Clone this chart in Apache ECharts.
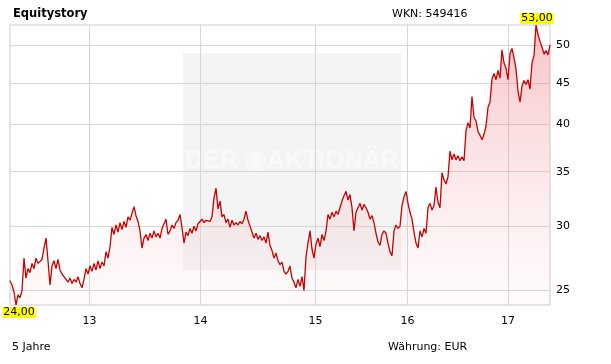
<!DOCTYPE html>
<html>
<head>
<meta charset="utf-8">
<script src="https://cdn.jsdelivr.net/npm/echarts@6/dist/echarts.min.js"></script>
<style>
html,body{margin:0;padding:0;background:#fff;}
#chart{width:611px;height:364px;}
</style>
</head>
<body>
<div id="chart"></div>
<script>
// Sample positions (trading-time index, evenly spaced) and closing prices in EUR
const prices = [
25.7, 25.4, 24.9, 24.0, 24.7, 24.5, 25.0, 27.4, 25.9, 26.6,
26.3, 27.0, 26.6, 27.4, 27.0, 27.1, 27.3, 28.2, 29.0, 27.2,
25.4, 26.8, 27.2, 26.6, 27.3, 26.5, 26.2, 26.0, 25.8, 25.6,
25.9, 25.5, 25.8, 25.6, 26.0, 25.5, 25.2, 25.8, 26.6, 26.2,
26.8, 26.4, 27.0, 26.5, 27.2, 26.6, 27.1, 26.8, 27.9, 27.4,
28.3, 29.9, 29.3, 30.1, 29.5, 30.3, 29.7, 30.4, 29.9, 30.8,
30.5, 31.1, 31.7, 30.9, 30.4, 29.6, 28.2, 29.0, 29.3, 28.8,
29.4, 29.0, 29.6, 29.1, 29.4, 29.0, 29.8, 30.2, 30.6, 29.3,
29.6, 30.1, 29.8, 30.3, 30.5, 31.0, 29.9, 28.6, 29.5, 29.2,
29.8, 29.4, 30.0, 29.6, 30.2, 30.4, 30.6, 30.3, 30.5, 30.6,
30.4, 30.8, 32.5, 33.4, 31.5, 32.2, 30.8, 31.0, 30.3, 30.6,
29.9, 30.5, 30.1, 30.3, 30.1, 30.4, 30.2, 30.6, 31.3, 30.5,
30.0, 29.5, 29.0, 29.4, 28.9, 29.2, 28.8, 29.1, 28.6, 29.5,
28.4, 28.0, 27.4, 27.8, 27.2, 26.9, 27.1, 26.4, 26.2, 26.4,
26.8, 25.9, 25.6, 25.2, 25.8, 25.3, 26.0, 25.0, 27.5, 28.6,
29.6, 28.1, 27.4, 28.5, 29.0, 28.3, 29.3, 28.8, 29.6, 31.0,
30.6, 31.2, 30.8, 31.3, 31.0, 31.6, 32.2, 32.7, 33.1, 32.3,
32.8, 31.6, 29.6, 31.2, 31.6, 32.0, 31.4, 31.9, 31.6, 31.2,
30.6, 30.9, 30.3, 29.4, 28.7, 28.4, 29.3, 29.6, 29.4, 28.6,
27.9, 27.6, 29.6, 30.1, 29.8, 30.0, 31.8, 32.6, 33.1, 32.0,
31.2, 30.6, 29.5, 28.6, 28.2, 29.6, 29.1, 29.8, 29.4, 31.6,
32.0, 31.4, 31.8, 33.5, 32.1, 31.6, 34.9, 34.2, 33.8, 34.5,
37.1, 36.2, 36.8, 36.2, 36.6, 36.1, 36.5, 36.1, 39.3, 40.2,
39.6, 43.3, 40.8, 40.4, 39.2, 38.8, 38.3, 38.9, 39.8, 42.0,
42.6, 45.5, 46.2, 45.4, 46.6, 45.6, 49.4, 47.6, 46.9, 45.4,
48.9, 49.6, 48.3, 46.8, 44.0, 42.6, 44.6, 45.3, 44.8, 45.4,
44.2, 47.6, 48.6, 53.0, 51.6, 50.6, 49.8, 48.8, 49.3, 48.7,
50.1
];
// Year boundaries on the trading-time index, and their labels
const yearLabels = ['13', '14', '15', '16', '17'];
const yearPos = [39.8, 95.3, 152.8, 198.8, 249];
// Price axis ticks (log scale)
const yTicks = [25, 30, 35, 40, 45, 50];
const yMin = 24, yMax = 53;

const FONT = '"DejaVu Sans", Verdana, sans-serif';
const fmtDe = v => v.toFixed(2).replace('.', ',');

const chart = echarts.init(document.getElementById('chart'), null, {renderer: 'canvas'});
chart.setOption({
  animation: false,
  backgroundColor: '#ffffff',
  grid: {left: 10, right: 61, top: 25, bottom: 59, show: true, borderColor: '#cccccc', borderWidth: 1, backgroundColor: 'transparent'},
  title: {
    text: 'Equitystory', left: 8, top: 3,
    textStyle: {fontFamily: FONT, fontSize: 11.5, fontWeight: 'bold', color: '#000'}
  },
  graphic: [
    {type: 'rect', z: -10, shape: {x: 183, y: 53, width: 218, height: 217}, style: {fill: '#f4f4f4'}},
    {type: 'text', z: -9, style: {x: 292, y: 161, text: 'DER ◉AKTIONÄR', align: 'center', verticalAlign: 'middle',
      font: 'bold 25px "Liberation Sans", Arial, sans-serif', fill: '#f9f9f9'}},
    {type: 'text', style: {x: 392, y: 14, text: 'WKN: 549416', verticalAlign: 'middle', font: '11px ' + FONT, fill: '#000'}},
    {type: 'text', style: {x: 12, y: 347, text: '5 Jahre', verticalAlign: 'middle', font: '11px ' + FONT, fill: '#000'}},
    {type: 'text', style: {x: 388, y: 347, text: 'Währung: EUR', verticalAlign: 'middle', font: '11px ' + FONT, fill: '#000'}}
  ],
  xAxis: {
    type: 'value', min: 0, max: prices.length - 1,
    axisLine: {show: false}, axisTick: {show: false, customValues: yearPos},
    axisLabel: {customValues: yearPos, margin: 11, fontFamily: FONT, fontSize: 11, color: '#000',
      formatter: v => yearLabels[yearPos.indexOf(v)] || ''},
    splitLine: {show: true, lineStyle: {color: '#d6d6d6', width: 1}}
  },
  yAxis: {
    type: 'log', logBase: 10, min: yMin, max: yMax, position: 'right',
    axisLine: {show: false}, axisTick: {show: false, customValues: yTicks},
    axisLabel: {customValues: yTicks, margin: 6, fontFamily: FONT, fontSize: 11, color: '#000', formatter: v => String(v)},
    splitLine: {show: true, lineStyle: {color: '#d6d6d6', width: 1}}
  },
  series: [{
    type: 'line',
    data: prices.map((v, i) => [i, v]),
    showSymbol: false,
    symbol: 'none',
    lineStyle: {color: '#c80000', width: 1.3},
    areaStyle: {
      origin: 'start',
      color: new echarts.graphic.LinearGradient(0, 0, 0, 1, [
        {offset: 0, color: 'rgba(234,95,106,0.55)'},
        {offset: 1, color: 'rgba(250,200,205,0.12)'}
      ])
    },
    markPoint: {
      symbol: 'rect', symbolSize: 0, silent: true,
      data: [
        {type: 'min', label: {position: 'bottom', distance: 2, offset: [3, 0]}},
        {type: 'max', label: {position: 'top', distance: 1, offset: [1, 0]}}
      ],
      label: {
        show: true, formatter: p => fmtDe(p.value), fontFamily: FONT, fontSize: 11, color: '#000',
        backgroundColor: '#ffff00', padding: [0, 1, 0, 1], lineHeight: 11
      }
    }
  }]
});
</script>
</body>
</html>
